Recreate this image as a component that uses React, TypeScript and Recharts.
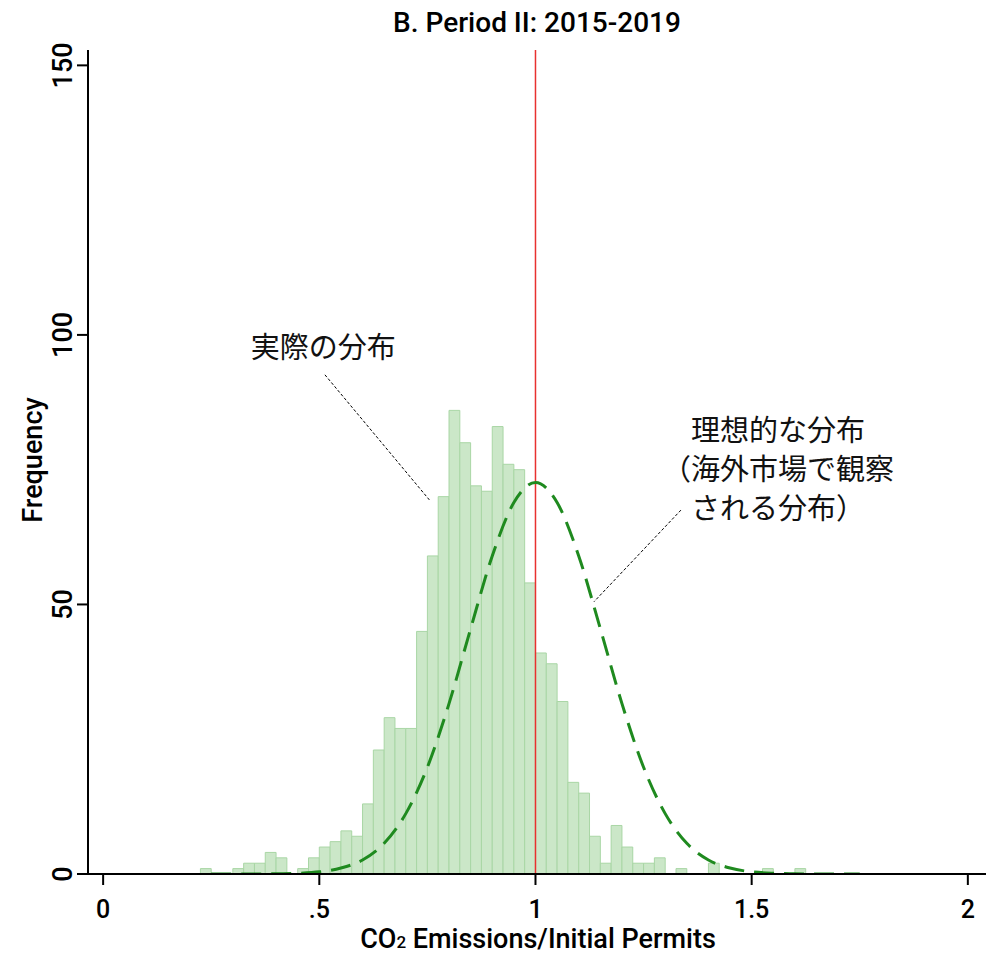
import React from 'react';
import {
  ComposedChart,
  Bar,
  Line,
  XAxis,
  YAxis,
  ReferenceLine,
  ReferenceDot,
} from 'recharts';

// Histogram: bins of width 0.025 starting at 0.2
const BIN_WIDTH = 0.025;
const FIRST_BIN = 0.2;
const binCounts = [
  0, 1, 0, 0, 1, 2, 2, 4, 3, 0, 1, 3, 5, 6, 8, 7, 13, 23, 29, 27, 27, 45, 59,
  70, 86, 80, 72, 71, 83, 76, 75, 54, 41, 39, 32, 17, 15, 7, 2, 9, 5, 2, 2, 3,
  0, 1, 0, 0, 2, 0, 0, 0, 0, 1, 0, 0, 1,
];

// Reference (normal) density, scaled to frequency
const normalX = [
  0.25, 0.3, 0.35, 0.4, 0.45, 0.5, 0.55, 0.6, 0.65, 0.7, 0.75, 0.8, 0.85, 0.9,
  0.95, 1.0, 1.05, 1.1, 1.15, 1.2, 1.25, 1.3, 1.35, 1.4, 1.45, 1.5, 1.55, 1.6,
  1.65, 1.7, 1.75,
];
const normalY = [
  0, 0, 0.01, 0.04, 0.13, 0.4, 1.1, 2.6, 5.7, 11.2, 19.8, 31.6, 45.5, 59.0,
  68.9, 72.6, 68.9, 59.0, 45.5, 31.6, 19.8, 11.2, 5.7, 2.6, 1.1, 0.4, 0.13,
  0.04, 0.01, 0, 0,
];

const xTicks = [0, 0.5, 1, 1.5, 2];
const yTicks = [0, 50, 100, 150];
const X_DOMAIN = [-0.035, 2.042];
const Y_DOMAIN = [0, 152.85];

// Annotation text and leader lines (data coordinates)
const actualLabel = ['実際の分布'];
const actualLabelAt = { x: 0.509, y: 98.2 };
const actualLeader = [
  { x: 0.513, y: 92.6 },
  { x: 0.7545, y: 69.4 },
];
const idealLabel = ['理想的な分布', '（海外市場で観察', 'される分布）'];
const idealLabelAt = { x: 1.5607, y: 75.5 };
const idealLeader = [
  { x: 1.3364, y: 67.5 },
  { x: 1.1353, y: 50.5 },
];

const histData = binCounts.map((count, i) => ({
  x: +(FIRST_BIN + (i + 0.5) * BIN_WIDTH).toFixed(4),
  count,
}));
const normalData = normalX.map((x, i) => ({ x, y: normalY[i] }));

const FONT = "Roboto, 'DejaVu Sans', sans-serif";
const CJK_FONT = "'Noto Sans CJK JP', 'Noto Sans CJK SC', sans-serif";

const formatX = (v: number) => String(v).replace(/^0\./, '.');

const YTick = ({ x, y, payload }: any) => {
  const cx = x - 3;
  return (
    <text
      x={cx}
      y={y}
      transform={`rotate(-90 ${cx} ${y})`}
      textAnchor="middle"
      fontFamily={FONT}
      fontWeight={500}
      fontSize={27}
      fill="#000"
    >
      {payload.value}
    </text>
  );
};

const NoteText = ({ cx, cy, lines }: any) => {
  const gap = 39;
  const top = cy - ((lines.length - 1) * gap) / 2;
  return (
    <text textAnchor="middle" fontFamily={CJK_FONT} fontSize={29} fill="#111">
      {lines.map((t: string, i: number) => (
        <tspan key={i} x={cx} y={top + i * gap} dominantBaseline="central">
          {t}
        </tspan>
      ))}
    </text>
  );
};

export default function App() {
  return (
    <div
      style={{
        position: 'absolute',
        left: 0,
        top: 0,
        width: 995,
        height: 955,
        background: '#fff',
        fontFamily: FONT,
      }}
    >
      <div
        style={{
          position: 'absolute',
          left: 537,
          top: 23,
          transform: 'translate(-50%, -50%)',
          fontSize: 28,
          fontWeight: 500,
          lineHeight: 1,
          whiteSpace: 'nowrap',
        }}
      >
        B. Period II: 2015-2019
      </div>

      <ComposedChart
        width={995}
        height={955}
        data={histData}
        margin={{ top: 50, right: 9, bottom: 11, left: 30 }}
        barCategoryGap={0}
        barGap={0}
      >
        <XAxis
          dataKey="x"
          type="number"
          domain={X_DOMAIN}
          ticks={xTicks}
          tickFormatter={formatX}
          allowDataOverflow
          height={70}
          tickSize={11}
          tickMargin={15}
          axisLine={{ stroke: '#000', strokeWidth: 2 }}
          tickLine={{ stroke: '#000', strokeWidth: 2 }}
          tick={{ fill: '#000', fontSize: 25, fontWeight: 500, fontFamily: FONT }}
        />
        {/* top frame edge; also carries the density curve so it does not
            affect the histogram's band size */}
        <XAxis
          xAxisId="top"
          orientation="top"
          dataKey="x"
          type="number"
          domain={X_DOMAIN}
          allowDataOverflow
          height={0}
          tick={false}
          tickLine={false}
          axisLine={{ stroke: '#333', strokeWidth: 2 }}
        />
        <YAxis
          type="number"
          domain={Y_DOMAIN}
          ticks={yTicks}
          allowDataOverflow
          width={58}
          tickSize={11}
          axisLine={{ stroke: '#000', strokeWidth: 2 }}
          tickLine={{ stroke: '#000', strokeWidth: 2 }}
          tick={<YTick />}
        />
        <YAxis
          yAxisId="right"
          orientation="right"
          type="number"
          domain={Y_DOMAIN}
          allowDataOverflow
          width={0}
          tick={false}
          tickLine={false}
          axisLine={{ stroke: '#333', strokeWidth: 2 }}
        />

        <Bar
          dataKey="count"
          fill="#cbe7c8"
          stroke="#a9d6a5"
          strokeWidth={1}
          barSize={10.8}
          isAnimationActive={false}
        />

        <ReferenceLine x={1} stroke="#e8312f" strokeWidth={1.5} />

        <Line
          xAxisId="top"
          data={normalData}
          dataKey="y"
          type="monotone"
          stroke="#1f8a1f"
          strokeWidth={3}
          strokeDasharray="20 10"
          dot={false}
          activeDot={false}
          isAnimationActive={false}
        />

        <ReferenceLine
          segment={actualLeader}
          stroke="#000"
          strokeWidth={1}
          strokeDasharray="3 2"
        />
        <ReferenceLine
          segment={idealLeader}
          stroke="#000"
          strokeWidth={1}
          strokeDasharray="3 2"
        />
        <ReferenceDot
          x={actualLabelAt.x}
          y={actualLabelAt.y}
          r={1}
          shape={(p: any) => <NoteText cx={p.cx} cy={p.cy} lines={actualLabel} />}
        />
        <ReferenceDot
          x={idealLabelAt.x}
          y={idealLabelAt.y}
          r={1}
          shape={(p: any) => <NoteText cx={p.cx} cy={p.cy} lines={idealLabel} />}
        />
      </ComposedChart>

      <div
        style={{
          position: 'absolute',
          left: 33,
          top: 460,
          transform: 'translate(-50%, -50%) rotate(-90deg)',
          fontSize: 27,
          fontWeight: 500,
          lineHeight: 1,
          whiteSpace: 'nowrap',
        }}
      >
        Frequency
      </div>
      <div
        style={{
          position: 'absolute',
          left: 538,
          top: 939,
          transform: 'translate(-50%, -50%)',
          fontSize: 27,
          fontWeight: 500,
          lineHeight: 1,
          whiteSpace: 'nowrap',
        }}
      >
        CO<span style={{ fontSize: 17 }}>2</span> Emissions/Initial Permits
      </div>
    </div>
  );
}
